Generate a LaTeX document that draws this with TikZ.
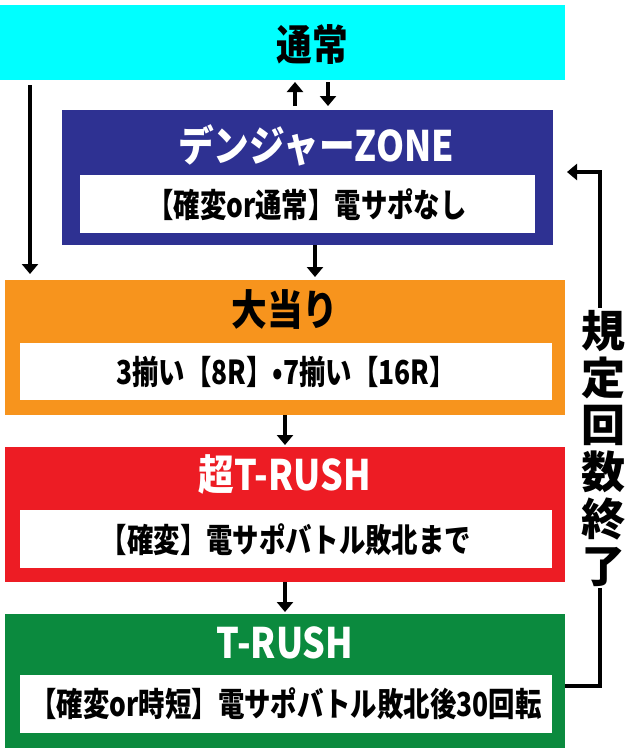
\documentclass[tikz,border=0pt]{standalone}
\usepackage{fontspec}
\setmainfont{Noto Sans CJK JP}[BoldFont={Noto Sans CJK JP Black}]
\usetikzlibrary{arrows.meta}
\definecolor{cy}{HTML}{00FFFF}
\definecolor{db}{HTML}{2E3192}
\definecolor{og}{HTML}{F7941D}
\definecolor{rd}{HTML}{ED1C24}
\definecolor{gr}{HTML}{0B8A3E}
\newcommand{\ttlx}[1]{\scalebox{0.85}[1]{#1}}
\newcommand{\subx}[1]{\scalebox{0.8}[1]{#1}}
\begin{document}
\begin{tikzpicture}[x=1pt,y=-1pt,
 ttl/.style={inner sep=0,font=\fontsize{42}{42}\bfseries\selectfont},
 sub/.style={inner sep=0,font=\fontsize{33}{33}\bfseries\selectfont},
 arr/.style={line width=3.5pt,-{Triangle[length=10pt,width=16pt]}}]
\useasboundingbox[fill=white] (0,0) rectangle (640,750);
\fill[cy] (0,5) rectangle (565,80);
\fill[db] (62,110) rectangle (553,245);
\fill[white] (80,175) rectangle (535,233);
\fill[og] (5,280) rectangle (565,415);
\fill[white] (20,343) rectangle (552,400);
\fill[rd] (5,447) rectangle (565,582);
\fill[white] (20,510) rectangle (552,568);
\fill[gr] (5,614) rectangle (565,748);
\fill[white] (20,675) rectangle (552,733);
\node[ttl,text=black] (n1) at (312,45) {\ttlx{通常}};
\node[ttl,text=white] (n2t) at (316,145) {\ttlx{デンジャーZONE}};
\node[sub] (n2s) at (307,205) {\subx{【確変or通常】電サポなし}};
\node[ttl,text=black] (n3t) at (285,310) {\ttlx{大当り}};
\node[sub] (n3s) at (286,372) {\subx{3揃い【8R】•7揃い【16R】}};
\node[ttl,text=white] (n4t) at (285,475) {\ttlx{超T-RUSH}};
\node[sub] (n4s) at (286,540) {\subx{【確変】電サポバトル敗北まで}};
\node[ttl,text=white] (n5t) at (285,643) {\ttlx{T-RUSH}};
\node[sub] (n5s) at (286,704) {\subx{【確変or時短】電サポバトル敗北後30回転}};
\coordinate (a1) at (30,85); \coordinate (a2) at (30,274);
\draw[arr] (a1) -- (a2);
\coordinate (b1) at (295,106); \coordinate (b2) at (295,82);
\draw[arr] (b1) -- (b2);
\coordinate (c1) at (328,82); \coordinate (c2) at (328,106);
\draw[arr] (c1) -- (c2);
\coordinate (d1) at (315,245); \coordinate (d2) at (315,277);
\draw[arr] (d1) -- (d2);
\coordinate (e1) at (285,415); \coordinate (e2) at (285,445);
\draw[arr] (e1) -- (e2);
\coordinate (f1) at (285,582); \coordinate (f2) at (285,612);
\draw[arr] (f1) -- (f2);
\coordinate (g1) at (565,686); \coordinate (g2) at (567,172);
\draw[arr] (g1) -- (600,686) -- (600,172) -- (g2);
\node[fill=white,inner sep=2pt,align=center,font=\fontsize{44}{47}\bfseries\selectfont] (v) at (603,448) {規\\定\\回\\数\\終\\了};
\end{tikzpicture}
\end{document}
